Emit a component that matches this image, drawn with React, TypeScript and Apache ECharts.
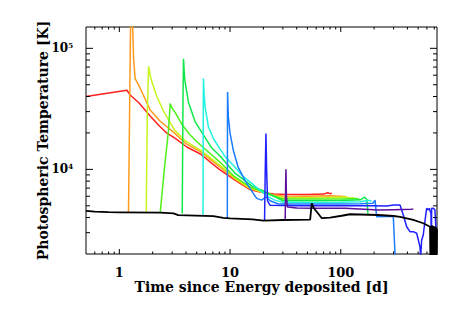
import React, { useEffect, useRef } from "react";
import * as echarts from "echarts";

const X_MIN = 0.5;
const X_MAX = 740;
const Y_MIN = 2000;
const Y_MAX = 150000;

const xTicks = [0.6, 0.7, 0.8, 0.9, 1, 2, 3, 4, 5, 6, 7, 8, 9, 10, 20, 30, 40, 50, 60, 70, 80, 90, 100, 200, 300, 400, 500, 600, 700];
const yTicks = [3000, 4000, 5000, 6000, 7000, 8000, 9000, 10000, 20000, 30000, 40000, 50000, 60000, 70000, 80000, 90000, 100000];

const redLine = [[0.5,40000],[1.17,45000],[1.26,41000],[1.5,35500],[1.9,27600],[2.3,22800],[2.69,19900],[3.2,18000],[4.07,15300],[5.4,13400],[8,10000],[11,8200],[15,6830],[20,6400],[25,6250],[30,6220],[50,6200],[70,6250],[76,6420],[80,6300],[83,6350]];
const orangeLine = [[1.21,4420],[1.27,250000],[1.32,150000],[1.345,82000],[1.39,56200],[1.55,46400],[1.65,41000],[1.9,30900],[2.34,25000],[3.1,20200],[4,16300],[5.4,14000],[8,10600],[11,8350],[15,6950],[20,6450],[25,6150],[30,6030],[50,6000],[80,6050],[100,6000],[113,5950]];
const yellowLine = [[1.75,4410],[1.79,30000],[1.84,71000],[1.9,60000],[1.97,52600],[2.19,39600],[2.5,30500],[2.9,24000],[3.2,20800],[4,17000],[5.4,14400],[8,10900],[11,8500],[15,7050],[20,6450],[25,6050],[30,5840],[50,5820],[80,5850],[110,5900],[125,5800],[132,5850]];
const limeLine = [[2.34,4390],[2.55,10000],[2.78,21000],[2.88,34900],[3.0,32000],[3.19,29600],[3.68,23500],[4.3,19500],[5.4,15900],[8,11600],[11,8700],[15,7200],[20,6500],[25,6000],[30,5690],[60,5680],[100,5700],[140,5750],[150,5600]];
const greenLine = [[3.7,4330],[3.76,40000],[3.8,82000],[3.87,60000],[3.93,52600],[4.21,35900],[4.84,24700],[5.4,21100],[6.84,15000],[8,13100],[11,9370],[15.7,7300],[20,6650],[25,6000],[30,5510],[60,5500],[100,5520],[150,5600],[165,5900],[172,5650],[176,4300]];
const cyanLine = [[5.7,4140],[5.73,30000],[5.75,56200],[5.85,40000],[5.95,32900],[6.37,22500],[7.07,18000],[7.87,15400],[9,12800],[11,10500],[13,8800],[15.7,7660],[19.3,6540],[22,5950],[25,5600],[30,5340],[60,5320],[100,5350],[150,5400],[180,5550],[190,5450]];
const azureLine = [[9.45,3950],[9.48,25000],[9.5,43600],[9.65,27200],[10,19900],[10.7,14400],[11.8,10500],[13.6,8160],[16.2,6330],[17.4,5760],[19.3,5570],[21.1,5940],[23,5500],[27,5200],[30,5180],[100,5170],[150,5200],[195,5250],[204,5580],[211,4060],[250,4080],[298,4100],[303,3000],[309,2000],[320,1850]];
const blueLine = [[20.5,3780],[20.8,10000],[21.1,19800],[21.4,10000],[21.8,5500],[23,5050],[40,5010],[100,5000],[190,5000],[260,4980],[300,5070],[343,5080],[367,4200],[394,3360],[422,3060],[452,3060],[485,2970],[502,2610],[519,2300],[527,1900],[538,2610],[556,2870],[588,4330],[597,4770],[617,4630],[630,4770],[653,4330],[658,1900],[662,4770],[684,4770],[709,4630],[724,3170],[740,3000]];
const purpleLine = [[31.5,3820],[31.8,8000],[32,10000],[32.3,6000],[33,4900],[40,4800],[60,4780],[109,4770],[218,4610],[300,4650],[436,4680],[452,4720]];
const blackLine = [[0.5,4550],[0.6,4480],[0.8,4430],[1,4420],[2.34,4390],[3.09,4330],[3.4,4190],[7.07,4110],[8.7,3980],[10,3940],[16,3870],[20,3780],[30,3820],[52.9,3850],[54.7,5250],[57,4800],[60.7,4470],[67.4,3950],[80,3990],[102,4140],[121,4260],[218,4200],[300,4120],[343,4060],[452,3820],[556,3590],[640,3360],[645,1900],[650,3400],[655,1850],[660,3350],[665,1900],[670,3450],[675,1850],[680,3300],[685,1900],[690,3400],[695,1850],[700,3350],[705,1900],[710,3300],[715,1850],[720,3350],[725,1900],[730,3300],[735,1850],[740,3200]];

const seriesDefs = [
  { name: "red", data: redLine, color: "#ff2020" },
  { name: "orange", data: orangeLine, color: "#ff9a1c" },
  { name: "yellow", data: yellowLine, color: "#c6f51e" },
  { name: "lime", data: limeLine, color: "#4ef01c" },
  { name: "green", data: greenLine, color: "#10e84a" },
  { name: "cyan", data: cyanLine, color: "#1ff2e0" },
  { name: "azure", data: azureLine, color: "#1a7cff" },
  { name: "blue", data: blueLine, color: "#2020ff" },
  { name: "purple", data: purpleLine, color: "#5c0f9c" },
  { name: "black", data: blackLine, color: "#000000" },
];

const FONT = "DejaVu Serif";

const isPow10 = (v: number) => {
  const l = Math.log10(v);
  return Math.abs(l - Math.round(l)) < 1e-6;
};

export default function App() {
  const ref = useRef<HTMLDivElement>(null);
  useEffect(() => {
    if (!ref.current) return;
    const chart = echarts.init(ref.current, undefined, { renderer: "svg" });
    const lineSeries = seriesDefs.map((s) => ({
      name: s.name,
      type: "line",
      data: s.data,
      showSymbol: false,
      symbol: "none",
      clip: true,
      lineStyle: { color: s.color, width: s.name === "black" ? 1.8 : 1.5 },
      itemStyle: { color: s.color },
      silent: true,
    }));
    chart.setOption({
      animation: false,
      backgroundColor: "#ffffff",
      grid: {
        left: 86,
        top: 27,
        width: 351,
        height: 227,
        show: true,
        borderColor: "#000",
        borderWidth: 1,
        backgroundColor: "transparent",
      },
      xAxis: {
        type: "log",
        logBase: 10,
        min: X_MIN,
        max: X_MAX,
        name: "Time since Energy deposited [d]",
        nameLocation: "middle",
        nameGap: 26,
        nameMoveOverlap: false,
        nameTextStyle: { fontFamily: FONT, fontSize: 14, fontWeight: "bold", color: "#000" },
        axisLine: { show: false },
        axisTick: { show: false },
        splitLine: { show: false },
        axisLabel: {
          fontFamily: FONT,
          fontSize: 13,
          fontWeight: "bold",
          color: "#000",
          margin: 12,
          showMinLabel: false,
          showMaxLabel: false,
          formatter: (v: number) => (isPow10(v) ? String(Math.round(v)) : ""),
        },
      },
      yAxis: {
        type: "log",
        logBase: 10,
        min: Y_MIN,
        max: Y_MAX,
        name: "Photospheric Temperature [K]",
        nameLocation: "middle",
        nameGap: 36,
        nameMoveOverlap: false,
        nameTextStyle: { fontFamily: FONT, fontSize: 14, fontWeight: "bold", color: "#000" },
        axisLine: { show: false },
        axisTick: { show: false },
        splitLine: { show: false },
        axisLabel: {
          fontFamily: FONT,
          color: "#000",
          margin: 13,
          showMinLabel: false,
          showMaxLabel: false,
          formatter: (v: number) =>
            isPow10(v) ? "{b|10}{s|" + Math.round(Math.log10(v)) + "}" : "",
          rich: {
            b: { fontFamily: FONT, fontSize: 12, fontWeight: "bold", color: "#000", lineHeight: 13 },
            s: { fontFamily: FONT, fontSize: 7, fontWeight: "bold", color: "#000", verticalAlign: "top", lineHeight: 13 },
          },
        },
      },
      series: [
        ...lineSeries,
        {
          type: "custom",
          silent: true,
          z: 10,
          data: xTicks.map((v) => [v, Y_MIN]),
          renderItem: (params: any, api: any) => {
            const v = api.value(0);
            const len = isPow10(v) ? 5 : 2.5;
            const b = api.coord([v, Y_MIN]);
            const t = api.coord([v, Y_MAX]);
            return {
              type: "group",
              children: [
                { type: "line", shape: { x1: b[0], y1: b[1], x2: b[0], y2: b[1] - len }, style: { stroke: "#000", lineWidth: 1 } },
                { type: "line", shape: { x1: t[0], y1: t[1], x2: t[0], y2: t[1] + len }, style: { stroke: "#000", lineWidth: 1 } },
              ],
            };
          },
        },
        {
          type: "custom",
          silent: true,
          z: 10,
          data: yTicks.map((v) => [X_MIN, v]),
          renderItem: (params: any, api: any) => {
            const v = api.value(1);
            const len = isPow10(v) ? 7 : 4;
            const l = api.coord([X_MIN, v]);
            const r = api.coord([X_MAX, v]);
            return {
              type: "group",
              children: [
                { type: "line", shape: { x1: l[0], y1: l[1], x2: l[0] + len, y2: l[1] }, style: { stroke: "#000", lineWidth: 1 } },
                { type: "line", shape: { x1: r[0], y1: r[1], x2: r[0] - len, y2: r[1] }, style: { stroke: "#000", lineWidth: 1 } },
              ],
            };
          },
        },
      ],
    });
    return () => chart.dispose();
  }, []);
  return (
    <div
      ref={ref}
      style={{ position: "fixed", left: 0, top: 0, width: 463, height: 309, background: "#fff" }}
    />
  );
}
